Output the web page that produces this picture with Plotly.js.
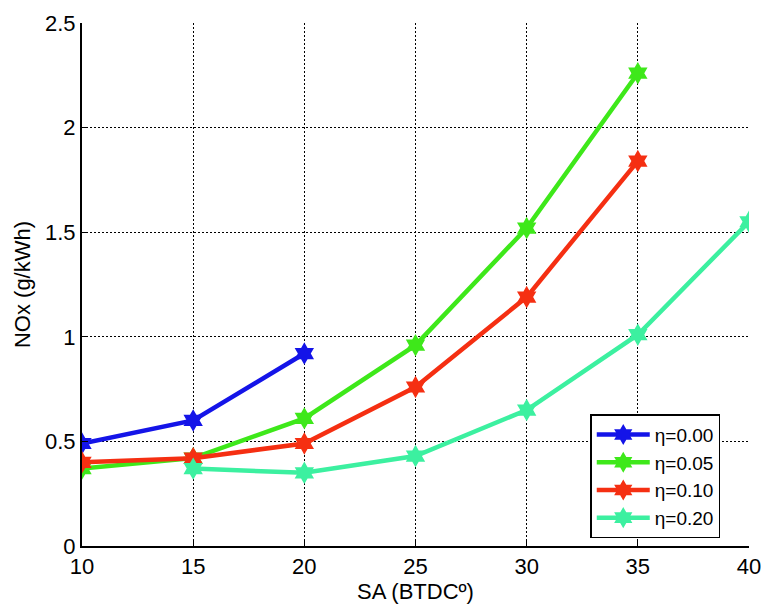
<!DOCTYPE html>
<html>
<head>
<meta charset="utf-8">
<script src="https://cdn.plot.ly/plotly-3.0.1.min.js"></script>
<style>html,body{margin:0;padding:0;background:#fff;}#chart{width:764px;height:608px;}</style>
</head>
<body>
<div id="chart"></div>
<script>
const sa = [10, 15, 20, 25, 30, 35, 40];
const names = ["η=0.00", "η=0.05", "η=0.10", "η=0.20"];
const x000 = [10, 15, 20];
const nox000 = [0.49, 0.60, 0.92];
const x005 = [10, 15, 20, 25, 30, 35];
const nox005 = [0.37, 0.42, 0.61, 0.96, 1.52, 2.26];
const x010 = [10, 15, 20, 25, 30, 35];
const nox010 = [0.40, 0.42, 0.49, 0.76, 1.19, 1.84];
const x020 = [15, 20, 25, 30, 35, 40];
const nox020 = [0.37, 0.35, 0.43, 0.65, 1.01, 1.55];
const yTicks = [0, 0.5, 1, 1.5, 2, 2.5];
const yTickText = ["0", "0.5", "1", "1.5", "2", "2.5"];
const colors = ["#1414e8", "#3ee81a", "#f52f12", "#3cf0a0"];

const xs = [x000, x005, x010, x020];
const ys = [nox000, nox005, nox010, nox020];
const traces = xs.map((x, i) => ({
  x: x, y: ys[i], name: names[i], type: "scatter", mode: "lines+markers",
  line: {color: colors[i], width: 4.5},
  marker: {symbol: "hexagram", size: 17, color: colors[i]}
}));

const FAM = "Liberation Sans, Arial, sans-serif";
function f(sz) { return {family: FAM, size: sz, color: "#000"}; }
const layout = {
  width: 764, height: 608,
  margin: {l: 82, r: 15, t: 23, b: 62},
  paper_bgcolor: "#fff", plot_bgcolor: "#fff",
  font: f(20),
  showlegend: true,
  legend: {
    x: 0.762, xanchor: "left", y: 0.252, yanchor: "top",
    bordercolor: "#000", borderwidth: 1.5, bgcolor: "#fff",
    font: f(19),
    itemwidth: 53, tracegroupgap: 0
  },
  xaxis: {
    range: [10, 40], tickvals: sa, ticktext: sa.map(String),
    showline: true, linecolor: "#000", linewidth: 2, mirror: false,
    ticks: "inside", ticklen: 6, tickcolor: "#000",
    showgrid: true, gridcolor: "#000", gridwidth: 1, griddash: "2px,2px",
    zeroline: false, tickfont: f(22),
    title: {text: "SA (BTDCº)", font: f(22), standoff: 4}
  },
  yaxis: {
    range: [0, 2.5], tickvals: yTicks, ticktext: yTickText,
    showline: true, linecolor: "#000", linewidth: 2, mirror: false,
    ticks: "inside", ticklen: 6, tickcolor: "#000",
    showgrid: true, gridcolor: "#000", gridwidth: 1, griddash: "2px,2px",
    zeroline: false, tickfont: f(22),
    title: {text: "NOx (g/kWh)", font: f(22), standoff: 8}
  }
};
Plotly.newPlot("chart", traces, layout, {displayModeBar: false, staticPlot: true});
</script>
</body>
</html>
